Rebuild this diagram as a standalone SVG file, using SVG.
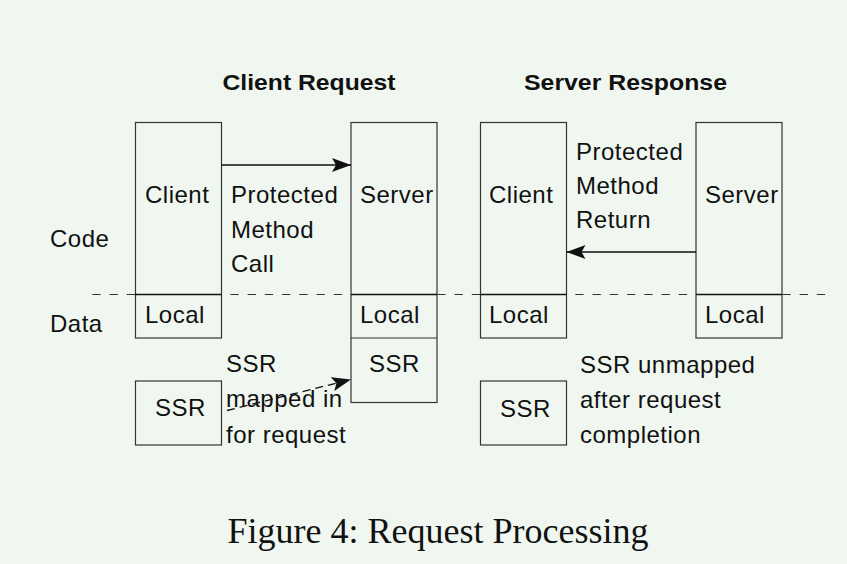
<svg xmlns="http://www.w3.org/2000/svg" width="847" height="564" viewBox="0 0 847 564">
<defs>
<style>
.bx{fill:none;stroke:#333;stroke-width:1.2}
.t{font-family:"Liberation Sans",Arial,sans-serif;font-size:24px;letter-spacing:0.5px;fill:#111}
.h{font-family:"Liberation Sans",Arial,sans-serif;font-size:22px;font-weight:bold;fill:#111}
.cap{font-family:"Liberation Serif","Times New Roman",serif;font-size:36px;fill:#111}
.ln{stroke:#111;stroke-width:1.3;fill:none}
</style>
<marker id="ah" markerUnits="userSpaceOnUse" markerWidth="20" markerHeight="15" refX="19" refY="7" orient="auto">
<path d="M0,0 L19,7 L0,14 L4,7 Z" fill="#111"/>
</marker>
</defs>
<rect width="847" height="564" fill="#f0f7f0"/>
<text class="h" x="222.5" y="90" textLength="173" lengthAdjust="spacingAndGlyphs">Client Request</text>
<text class="h" x="524" y="90" textLength="203" lengthAdjust="spacingAndGlyphs">Server Response</text>
<text class="t" x="50" y="247">Code</text>
<text class="t" x="50" y="332">Data</text>
<g id="divider">
<line x1="92.3" y1="294.5" x2="826" y2="294.5" stroke="#333" stroke-width="1.1" stroke-dasharray="8.3 8.95"/>
</g>
<g id="client1">
<rect class="bx" x="135.5" y="122.5" width="86" height="215.5"/>
<line class="ln" x1="135.5" y1="294.5" x2="221.5" y2="294.5"/>
<text class="t" x="145" y="203">Client</text>
<text class="t" x="145" y="323">Local</text>
</g>
<g id="server1">
<rect class="bx" x="351" y="122.5" width="86" height="280"/>
<line class="ln" x1="351" y1="294.5" x2="437" y2="294.5"/>
<line class="bx" x1="351" y1="338" x2="437" y2="338"/>
<text class="t" x="360" y="203">Server</text>
<text class="t" x="360" y="323">Local</text>
<text class="t" x="369" y="372">SSR</text>
</g>
<g id="ssr1">
<rect class="bx" x="135.5" y="381" width="86" height="64"/>
<text class="t" x="155" y="416">SSR</text>
</g>
<g id="client2">
<rect class="bx" x="480.5" y="122.5" width="86" height="215.5"/>
<line class="ln" x1="480.5" y1="294.5" x2="566.5" y2="294.5"/>
<text class="t" x="489" y="203">Client</text>
<text class="t" x="489" y="323">Local</text>
</g>
<g id="server2">
<rect class="bx" x="696" y="122.5" width="86" height="215.5"/>
<line class="ln" x1="696" y1="294.5" x2="782" y2="294.5"/>
<text class="t" x="705" y="203">Server</text>
<text class="t" x="705" y="323">Local</text>
</g>
<g id="ssr2">
<rect class="bx" x="480.5" y="381" width="86" height="64"/>
<text class="t" x="500" y="416.5">SSR</text>
</g>
<g id="connectors">
<line class="ln" x1="221.5" y1="165" x2="351" y2="165" marker-end="url(#ah)"/>
<line class="ln" x1="696" y1="252" x2="566.5" y2="252" marker-end="url(#ah)"/>
<line class="ln" x1="227" y1="410.5" x2="351" y2="379.5" stroke-dasharray="8 5" marker-end="url(#ah)"/>
</g>
<g id="labels">
<text class="t" x="231" y="203">Protected</text>
<text class="t" x="231" y="238">Method</text>
<text class="t" x="231" y="272">Call</text>
<text class="t" x="576" y="160">Protected</text>
<text class="t" x="576" y="194">Method</text>
<text class="t" x="576" y="228">Return</text>
<text class="t" x="226" y="372">SSR</text>
<text class="t" x="226" y="407">mapped in</text>
<text class="t" x="226" y="443">for request</text>
<text class="t" x="580" y="372.5">SSR unmapped</text>
<text class="t" x="580" y="407.5">after request</text>
<text class="t" x="580" y="443">completion</text>
</g>
<text class="cap" x="227.5" y="542.5">Figure 4: Request Processing</text>
</svg>
